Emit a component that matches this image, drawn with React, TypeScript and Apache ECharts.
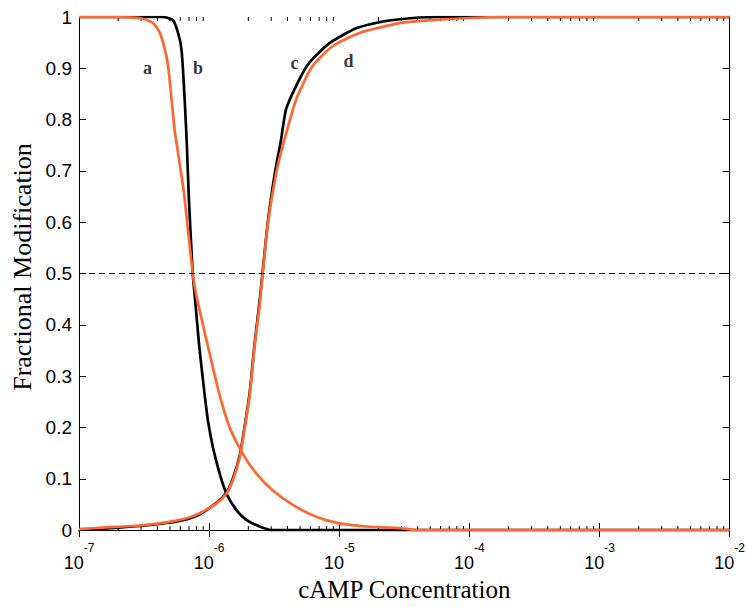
import React, { useEffect, useRef } from "react";
import * as echarts from "echarts";

// Curve a (orange, falling)
const curveAX = [1e-7, 2.06e-7, 2.59e-7, 2.94e-7, 3.72e-7, 4.18e-7, 4.57e-7, 4.84e-7, 5.14e-7, 5.45e-7, 5.96e-7, 6.43e-7, 7.48e-7, 8.0e-7, 9.75e-7, 1.205e-6, 1.44e-6, 1.82e-6, 2.31e-6, 3.09e-6, 4.4e-6, 6.65e-6, 1.0e-5, 1.61e-5, 2.9e-5, 3.89e-5, 1e-2];
const curveAY = [1, 1, 0.999, 0.998, 0.988, 0.969, 0.937, 0.904, 0.84, 0.777, 0.712, 0.654, 0.5, 0.456, 0.36, 0.263, 0.2, 0.148, 0.11, 0.077, 0.049, 0.026, 0.013, 0.007, 0.004, 0, 0];

// Curve b (black, falling)
const curveBX = [1e-7, 4.4e-7, 4.71e-7, 5.28e-7, 5.77e-7, 6.13e-7, 6.38e-7, 6.58e-7, 6.76e-7, 6.98e-7, 7.48e-7, 7.76e-7, 8.38e-7, 9.25e-7, 9.81e-7, 1.07e-6, 1.205e-6, 1.358e-6, 1.62e-6, 1.93e-6, 2.44e-6, 3.0e-6, 1e-2];
const curveBY = [1, 1, 0.999, 0.994, 0.969, 0.937, 0.873, 0.808, 0.744, 0.648, 0.5, 0.456, 0.36, 0.263, 0.212, 0.161, 0.11, 0.071, 0.039, 0.02, 0.007, 0, 0];

// Curve c (black, rising)
const curveCX = [1e-7, 1.535e-7, 2.94e-7, 4.71e-7, 6.7e-7, 8.47e-7, 1.138e-6, 1.358e-6, 1.52e-6, 1.72e-6, 1.88e-6, 2.05e-6, 2.24e-6, 2.44e-6, 2.58e-6, 2.84e-6, 3.22e-6, 3.54e-6, 3.91e-6, 4.95e-6, 5.9e-6, 8.41e-6, 1.35e-5, 2.14e-5, 4.12e-5, 5.86e-5, 1e-2];
const curveCY = [0.001, 0.003, 0.008, 0.014, 0.021, 0.031, 0.053, 0.073, 0.1, 0.146, 0.204, 0.268, 0.365, 0.445, 0.505, 0.605, 0.7, 0.755, 0.821, 0.879, 0.911, 0.949, 0.978, 0.991, 0.999, 1, 1];

// Curve d (orange, rising)
const curveDX = [1e-7, 1.535e-7, 2.94e-7, 4.71e-7, 6.7e-7, 8.47e-7, 1.138e-6, 1.358e-6, 1.52e-6, 1.72e-6, 1.88e-6, 2.05e-6, 2.24e-6, 2.44e-6, 2.58e-6, 2.84e-6, 3.3e-6, 3.69e-6, 4.68e-6, 6.22e-6, 8.87e-6, 1.43e-5, 2.9e-5, 5.19e-5, 1.69e-4, 1e-2];
const curveDY = [0.002, 0.005, 0.009, 0.015, 0.023, 0.033, 0.052, 0.071, 0.097, 0.142, 0.2, 0.263, 0.36, 0.437, 0.5, 0.6, 0.7, 0.75, 0.84, 0.904, 0.943, 0.969, 0.988, 0.994, 1, 1];

// Curve labels
const labelNames = ["a", "b", "c", "d"];
const labelX = [3.36e-7, 8.22e-7, 4.53e-6, 1.18e-5];
const labelY = [0.9, 0.9, 0.911, 0.915];

const xMin = 1e-7;
const xMax = 1e-2;
const halfLevel = 0.5;
const xTitle = "cAMP Concentration";
const yTitle = "Fractional Modification";

const BLACK = "#000000";
const ORANGE = "#FF6633";

const zip = (xs: number[], ys: number[]) => xs.map((x, i) => [x, ys[i]]);

export default function App() {
  const ref = useRef<HTMLDivElement>(null);
  useEffect(() => {
    if (!ref.current) return;
    const chart = echarts.init(ref.current, null, { renderer: "svg" });

    const minorTicks: number[][] = [];
    for (let e = -7; e < -2; e++) {
      for (let m = 2; m <= 9; m++) minorTicks.push([m * Math.pow(10, e), 0]);
    }

    const lineSeries = (name: string, xs: number[], ys: number[], color: string, z: number) => ({
      type: "line",
      name,
      data: zip(xs, ys),
      showSymbol: false,
      symbol: "none",
      smooth: 0.2,
      lineStyle: { color, width: 2.7 },
      z,
    });

    const tickFont = { fontFamily: "Liberation Sans, Arial, sans-serif", color: BLACK };

    chart.setOption({
      animation: false,
      backgroundColor: "#ffffff",
      grid: { left: 79, right: 17, top: 17, bottom: 70, containLabel: false },
      xAxis: [
        {
          type: "log",
          logBase: 10,
          min: xMin,
          max: xMax,
          splitNumber: 5,
          position: "bottom",
          name: xTitle,
          nameLocation: "middle",
          nameGap: 45,
          nameTextStyle: { fontFamily: "Liberation Serif, Times New Roman, serif", fontSize: 25, color: BLACK },
          axisLine: { show: true, lineStyle: { color: BLACK, width: 1 } },
          axisTick: { show: true, inside: true, length: 7, lineStyle: { color: BLACK } },
          splitLine: { show: false },
          axisLabel: {
            margin: 12,
            formatter: (v: number) => `{b|10}{s|${Math.round(Math.log10(v))}}`,
            rich: {
              b: { ...tickFont, fontSize: 18, lineHeight: 30, verticalAlign: "bottom" },
              s: { ...tickFont, fontSize: 12, lineHeight: 12, verticalAlign: "top" },
            },
          },
        },
        {
          type: "log",
          logBase: 10,
          min: xMin,
          max: xMax,
          splitNumber: 5,
          position: "top",
          axisLine: { show: true, lineStyle: { color: BLACK, width: 1 } },
          axisTick: { show: true, inside: true, length: 7, lineStyle: { color: BLACK } },
          axisLabel: { show: false },
          splitLine: { show: false },
        },
      ],
      yAxis: [
        {
          type: "value",
          min: 0,
          max: 1,
          interval: 0.1,
          position: "left",
          axisLine: { show: true, lineStyle: { color: BLACK, width: 1 } },
          axisTick: { show: true, inside: true, length: 7, lineStyle: { color: BLACK } },
          splitLine: { show: false },
          axisLabel: { ...tickFont, fontSize: 19, margin: 7 },
        },
        {
          type: "value",
          min: 0,
          max: 1,
          interval: 0.1,
          position: "right",
          axisLine: { show: true, lineStyle: { color: BLACK, width: 1 } },
          axisTick: { show: true, inside: true, length: 7, lineStyle: { color: BLACK } },
          splitLine: { show: false },
          axisLabel: { show: false },
        },
      ],
      graphic: [
        {
          type: "text",
          x: 22,
          y: 267,
          rotation: Math.PI / 2,
          style: {
            text: yTitle,
            fontFamily: "Liberation Serif, Times New Roman, serif",
            fontSize: 26,
            fill: BLACK,
            align: "center",
            verticalAlign: "middle",
          },
        },
      ],
      series: [
        {
          type: "custom",
          name: "minorTicks",
          silent: true,
          clip: false,
          data: minorTicks,
          encode: { x: 0, y: 1 },
          z: 1,
          renderItem: (_params: any, api: any) => {
            const x = api.value(0);
            const pb = api.coord([x, 0]);
            const pt = api.coord([x, 1]);
            const style = { stroke: BLACK, lineWidth: 1 };
            return {
              type: "group",
              children: [
                { type: "line", shape: { x1: pb[0], y1: pb[1], x2: pb[0], y2: pb[1] - 4 }, style },
                { type: "line", shape: { x1: pt[0], y1: pt[1], x2: pt[0], y2: pt[1] + 4 }, style },
              ],
            };
          },
        },
        {
          ...lineSeries("b", curveBX, curveBY, BLACK, 3),
          markLine: {
            silent: true,
            symbol: ["none", "none"],
            label: { show: false },
            lineStyle: { color: BLACK, width: 1, type: [6, 4] },
            data: [{ yAxis: halfLevel }],
          },
        },
        lineSeries("c", curveCX, curveCY, BLACK, 3),
        lineSeries("a", curveAX, curveAY, ORANGE, 4),
        lineSeries("d", curveDX, curveDY, ORANGE, 4),
        {
          type: "scatter",
          name: "labels",
          symbolSize: 0,
          silent: true,
          z: 5,
          data: labelNames.map((n, i) => ({ name: n, value: [labelX[i], labelY[i]] })),
          label: {
            show: true,
            position: "inside",
            formatter: "{b}",
            fontFamily: "Liberation Serif, Times New Roman, serif",
            fontWeight: "bold",
            fontSize: 18,
            color: BLACK,
          },
        },
      ],
    });

    return () => chart.dispose();
  }, []);

  return (
    <div
      ref={ref}
      style={{ position: "fixed", left: 0, top: 0, width: 748, height: 607, background: "#fff" }}
    />
  );
}
